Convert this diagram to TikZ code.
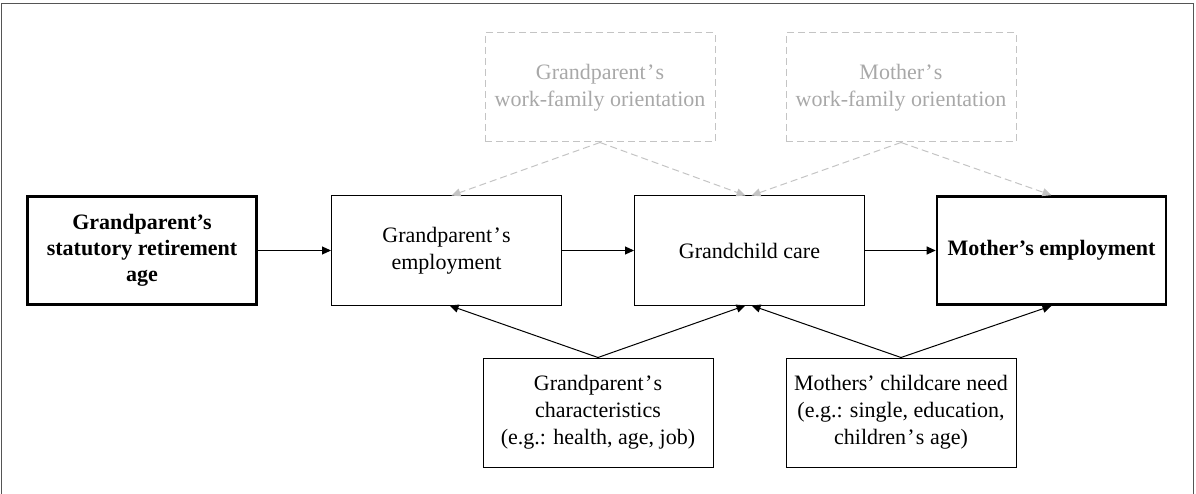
\documentclass[tikz,border=0pt]{standalone}
\usepackage{fontspec}
\setmainfont{Liberation Serif}
\usetikzlibrary{arrows.meta,calc}
\definecolor{lightline}{HTML}{C4C4C4}
\definecolor{lighttext}{HTML}{A8A8A8}
\definecolor{framec}{HTML}{555555}
\newcommand{\apo}{\kern1.2pt’\kern1.2pt}
\tikzset{
  box/.style={draw=black, line width=1pt, minimum width=230pt, minimum height=109pt,
    align=center, inner sep=2pt, font=\fontsize{22}{27}\selectfont},
  mainbox/.style={box, line width=2.6pt, minimum width=229pt, minimum height=108pt, font=\fontsize{22}{26}\selectfont\bfseries},
  ghostbox/.style={box, draw=lightline, dashed, dash pattern=on 7pt off 4pt, text=lighttext},
  arr/.style={-{Triangle[length=9pt,width=8pt]}, line width=1pt, black},
  ghostarr/.style={-{Triangle[length=9pt,width=8pt]}, line width=1pt, draw=lightline, dash pattern=on 7pt off 4pt}
}
\begin{document}
\begin{tikzpicture}[x=1pt,y=-1pt]
\useasboundingbox (0,0) rectangle (1196,494);
\draw[framec, line width=1pt] (1.5,494) -- (1.5,3.5) -- (1193.5,3.5) -- (1193.5,494);

\node[mainbox] (A) at (142,250.5) {Grandparent’s\\statutory retirement\\age};
\node[box] (B) at (446.5,250.5) {Grandparent\apo s\\employment};
\node[box] (C) at (749.5,250.5) {Grandchild care};
\node[mainbox] (D) at (1051.5,250.5) {Mother’s employment};
\node[ghostbox] (E) at (600,87.5) {Grandparent\apo s\\work-family orientation};
\node[ghostbox] (F) at (901,87.5) {Mother\apo s\\work-family orientation};
\node[box] (G) at (598,412.5) {Grandparent\apo s\\characteristics\\(e.g.: health, age, job)};
\node[box] (H) at (901,412.5) {Mothers’ childcare need\\(e.g.: single, education,\\children\apo s age)};

\draw[arr] (A.east) -- (B.west);
\draw[arr] (B.east) -- (C.west);
\draw[arr] (C.east) -- (D.west);

\draw[ghostarr] (E.south) -- ([xshift=5pt]B.north);
\draw[ghostarr] (E.south) -- ([xshift=-4pt]C.north);
\draw[ghostarr] (F.south) -- ([xshift=2pt]C.north);
\draw[ghostarr] (F.south) -- ([xshift=0pt]D.north);

\draw[arr] (G.north) -- ([xshift=3pt]B.south);
\draw[arr] (G.north) -- ([xshift=-4pt]C.south);
\draw[arr] (H.north) -- ([xshift=2pt]C.south);
\draw[arr] (H.north) -- ([xshift=0pt]D.south);
\end{tikzpicture}
\end{document}
